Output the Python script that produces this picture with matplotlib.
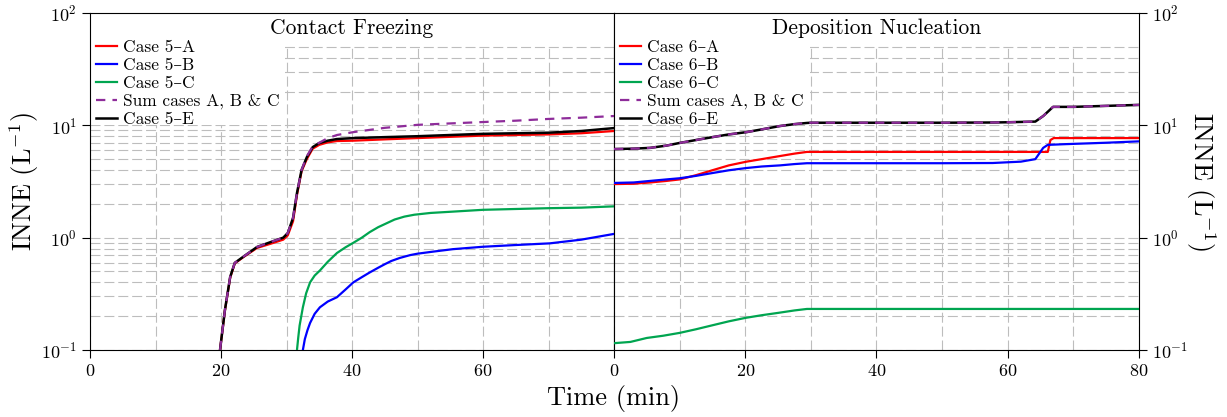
import matplotlib
matplotlib.use("Agg")
import matplotlib.pyplot as plt
from matplotlib.patches import Rectangle
from matplotlib.ticker import FixedLocator, MultipleLocator, LogLocator, NullFormatter

plt.rcParams['font.family'] = ['cmr10', 'DejaVu Serif']
plt.rcParams['mathtext.fontset'] = 'cm'
plt.rcParams['axes.formatter.use_mathtext'] = True

# --- Contact freezing (case 5) ---
t5_ae = [19.85, 20.6, 21.4, 22.1, 23.4, 25.5, 27.5, 29.5, 30.2, 31.0, 31.6, 32.3,
         33.1, 34.0, 35.0, 36.3, 37.7, 40.2, 45, 50, 55, 60, 65, 70, 75, 80]
case5_e = [0.1, 0.227, 0.447, 0.596, 0.676, 0.826, 0.91, 1.0, 1.1, 1.5, 2.5, 4.0,
           5.2, 6.4, 6.95, 7.3, 7.55, 7.7, 7.85, 8.0, 8.2, 8.4, 8.5, 8.6, 8.9, 9.45]
case5_a = [0.1, 0.225, 0.44, 0.59, 0.67, 0.81, 0.88, 0.96, 1.05, 1.4, 2.4, 3.9,
           5.0, 6.2, 6.7, 7.05, 7.25, 7.3, 7.5, 7.7, 7.9, 8.1, 8.2, 8.3, 8.5, 8.9]
sum5 = [0.1, 0.227, 0.447, 0.596, 0.676, 0.826, 0.91, 1.0, 1.1, 1.5, 2.5, 4.0,
        5.3, 6.5, 7.0, 7.7, 8.2, 8.7, 9.5, 10.1, 10.4, 10.7, 11.0, 11.4, 11.7, 12.1]
t5_c = [31.6, 31.8, 32.0, 32.5, 33.0, 33.6, 34.3, 35.1, 36.3, 37.7, 39.0, 40.2, 41.5,
        42.7, 44.0, 45.0, 46.5, 48.0, 49.5, 52, 55, 60, 65, 70, 75, 80]
case5_c = [0.1, 0.13, 0.165, 0.24, 0.32, 0.40, 0.46, 0.51, 0.61, 0.73, 0.82, 0.90, 1.0,
           1.12, 1.24, 1.32, 1.45, 1.54, 1.60, 1.66, 1.70, 1.77, 1.80, 1.83, 1.85, 1.90]
t5_b = [32.5, 32.8, 33.2, 33.6, 34.3, 35.1, 36.3, 37.7, 39.0, 40.2, 41.5, 42.7, 44.0,
        45.0, 46.0, 47.3, 48.9, 50, 52.3, 55.4, 60, 65, 70.2, 75, 80]
case5_b = [0.1, 0.125, 0.15, 0.174, 0.21, 0.24, 0.27, 0.295, 0.345, 0.40, 0.445, 0.49,
           0.54, 0.58, 0.62, 0.66, 0.70, 0.72, 0.75, 0.79, 0.83, 0.86, 0.89, 0.96, 1.08]

# --- Deposition nucleation (case 6) ---
t6_e = [0, 3, 5.5, 8, 10, 12.5, 15.1, 17.5, 20.2, 22.5, 25.3, 27.5, 29.4, 30, 40, 50,
        57.7, 60, 64.2, 65.4, 66.1, 66.9, 70, 75, 80]
case6_e = [6.15, 6.2, 6.3, 6.6, 6.97, 7.4, 7.87, 8.3, 8.7, 9.2, 9.86, 10.25, 10.5, 10.55,
           10.55, 10.55, 10.6, 10.65, 10.8, 12.1, 13.2, 14.6, 14.6, 14.9, 15.2]
sum6 = case6_e
t6_a = [0, 3, 5.5, 8, 10, 12.5, 15.1, 17.5, 20.2, 22.5, 25.3, 27.5, 29.4, 40, 50, 60,
        66.1, 66.5, 67.0, 70, 80]
case6_a = [3.0, 3.02, 3.1, 3.2, 3.3, 3.6, 4.0, 4.4, 4.75, 5.0, 5.33, 5.6, 5.8, 5.8, 5.8,
           5.8, 5.8, 7.4, 7.7, 7.7, 7.7]
t6_b = [0, 3, 5.5, 8, 10, 12.5, 15.1, 17.5, 20.2, 22.5, 25.3, 27.5, 29.4, 40, 50, 57.7,
        62, 64.2, 65.4, 66.1, 68.8, 75, 80]
case6_b = [3.07, 3.1, 3.2, 3.3, 3.38, 3.55, 3.77, 3.98, 4.17, 4.3, 4.4, 4.52, 4.6, 4.6,
           4.6, 4.62, 4.75, 5.0, 6.3, 6.7, 6.8, 7.0, 7.2]
t6_c = [0, 2.5, 5, 7.5, 10, 12.5, 15, 17.5, 20, 22.5, 25, 27.5, 29.4, 40, 60, 80]
case6_c = [0.115, 0.118, 0.128, 0.134, 0.142, 0.153, 0.166, 0.18, 0.193, 0.204, 0.214,
           0.225, 0.232, 0.232, 0.232, 0.232]

W, H = 1227, 417
fig = plt.figure(figsize=(W / 100, H / 100), dpi=100)
ax1 = fig.add_axes([90 / W, 1 - 350 / H, 524 / W, 337 / H])
ax2 = fig.add_axes([614 / W, 1 - 350 / H, 525 / W, 337 / H])

grid_kw = dict(color='#bdbdbd', linewidth=0.8, dashes=(9, 3.5))


def style_axis(ax, xticks):
    ax.set_yscale('log')
    ax.set_xlim(0, 80)
    ax.set_ylim(0.1, 100)
    ax.xaxis.set_major_locator(FixedLocator(xticks))
    ax.xaxis.set_minor_locator(MultipleLocator(10))
    ax.yaxis.set_major_locator(LogLocator(base=10, numticks=10))
    ax.yaxis.set_minor_locator(LogLocator(base=10, subs=range(2, 10), numticks=20))
    ax.yaxis.set_minor_formatter(NullFormatter())
    ax.set_axisbelow(True)
    ax.grid(True, which='both', **grid_kw)
    ax.tick_params(which='major', direction='out', length=6, width=0.8, labelsize=13)
    ax.tick_params(which='minor', length=0)
    # white masks: no grid in top band and behind legend
    ax.add_patch(Rectangle((0, 52), 80, 48, fc='white', ec='none', zorder=1))
    ax.add_patch(Rectangle((0, 10.15), 29.8, 90, fc='white', ec='none', zorder=1))


def draw(ax, series, title, num):
    handles = {}
    for key, t, v, col, ls, lw in series:
        ln, = ax.plot(t, v, color=col, linestyle=ls, linewidth=lw, zorder=3)
        handles[key] = ln
    order = ['A', 'B', 'C', 'S', 'E']
    labels = [f'Case {num}\u2013A', f'Case {num}\u2013B', f'Case {num}\u2013C',
              'Sum cases A, B & C', f'Case {num}\u2013E']
    ax.legend([handles[k] for k in order], labels, loc='upper left',
              bbox_to_anchor=(6 / 524, 0.922), borderaxespad=0, borderpad=0,
              frameon=False, fontsize=12.5, handlelength=1.2, handletextpad=0.35,
              labelspacing=0.16)
    ax.text(0.5, 0.955, title, transform=ax.transAxes, ha='center', va='center',
            fontsize=15.5)


purple = '#8e2c9a'
dash = (0, (4.2, 3.2))
draw(ax1, [
    ('A', t5_ae, case5_a, 'red', '-', 1.6),
    ('B', t5_b, case5_b, 'blue', '-', 1.6),
    ('C', t5_c, case5_c, '#00a550', '-', 1.6),
    ('E', t5_ae, case5_e, 'black', '-', 1.8),
    ('S', t5_ae, sum5, purple, dash, 1.6),
], 'Contact Freezing', 5)
draw(ax2, [
    ('A', t6_a, case6_a, 'red', '-', 1.6),
    ('B', t6_b, case6_b, 'blue', '-', 1.6),
    ('C', t6_c, case6_c, '#00a550', '-', 1.6),
    ('E', t6_e, case6_e, 'black', '-', 1.8),
    ('S', t6_e, sum6, purple, dash, 1.6),
], 'Deposition Nucleation', 6)

style_axis(ax1, [0, 20, 40, 60])
style_axis(ax2, [0, 20, 40, 60, 80])

ax1.set_ylabel('INNE (L$^{-1}$)', fontsize=19, labelpad=0)
ax2.yaxis.tick_right()
ax2.yaxis.set_label_position('right')
ax2.set_ylabel('INNE (L$^{-1}$)', fontsize=19, rotation=270, labelpad=21)
ax2.tick_params(axis='y', which='both', left=False, right=True)

fig.text(614 / W, 1 - 398 / H, 'Time (min)', ha='center', va='center', fontsize=19)

fig.savefig('out.png', dpi=100)
